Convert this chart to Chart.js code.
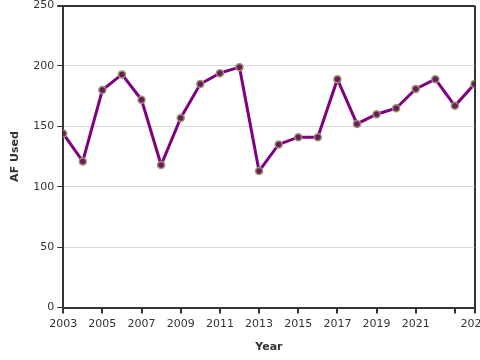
<!DOCTYPE html>
<html>
<head>
<meta charset="utf-8">
<script src="https://cdn.jsdelivr.net/npm/chart.js@4"></script>
<style>
  html, body { margin: 0; padding: 0; background: #fff; }
  #wrap { width: 480px; height: 360px; }
</style>
</head>
<body>
<div id="wrap"><canvas id="chart"></canvas></div>
<script>
const years = [2003, 2004, 2005, 2006, 2007, 2008, 2009, 2010, 2011, 2012, 2013,
               2014, 2015, 2016, 2017, 2018, 2019, 2020, 2021, 2022, 2023, 2024]
const afUsed = [144, 121, 180, 193, 172, 118, 157, 185, 194, 199, 113,
                135, 141, 141, 189, 152, 160, 165, 181, 189, 167, 185]
const xTicks = [2003, 2005, 2007, 2009, 2011, 2013, 2015, 2017, 2019, 2021, 2023, 2024]
const yTicks = [0, 50, 100, 150, 200, 250]

const axisColor = '#333'
const font = { family: "'DejaVu Sans', sans-serif", size: 11 }

const ctx = document.getElementById('chart').getContext('2d')
Chart.defaults.color = axisColor

const chart = new Chart(ctx, {
    type: 'line',
    data: {
        datasets: [{
            label: 'AF Used',
            data: years.map((y, i) => ({ x: y, y: afUsed[i] })),
            borderColor: '#800080',
            borderWidth: 3,
            pointRadius: 3.5,
            pointBackgroundColor: '#6b1a5c',
            pointBorderColor: '#9c9470',
            pointBorderWidth: 1.5,
            tension: 0
        }]
    },
    options: {
        responsive: true,
        maintainAspectRatio: false,
        animation: false,
        layout: { padding: { left: 9, right: 5, top: 0, bottom: 6 } },
        scales: {
            x: {
                type: 'linear',
                min: 2003,
                max: 2024,
                afterBuildTicks: (scale) => { scale.ticks = xTicks.map(v => ({ value: v })) },
                afterFit: (scale) => { scale.paddingRight = 0; scale.paddingLeft = 0 },
                ticks: {
                    autoSkip: false,
                    maxRotation: 0,
                    font: font,
                    color: axisColor,
                    padding: 4,
                    callback: (v) => v === 2023 ? '' : String(v)
                },
                grid: {
                    drawOnChartArea: true,
                    color: (c) => c.tick && c.tick.value === 2024 ? axisColor : 'rgba(0,0,0,0)',
                    lineWidth: 2,
                    tickColor: axisColor,
                    tickLength: 6
                },
                border: { color: axisColor, width: 2 },
                title: {
                    display: true,
                    text: 'Year',
                    font: { family: font.family, size: 11, weight: 'bold' },
                    color: axisColor,
                    padding: { top: 6, bottom: 0 }
                }
            },
            y: {
                min: 0,
                max: 250,
                afterBuildTicks: (scale) => { scale.ticks = yTicks.map(v => ({ value: v })) },
                afterFit: (scale) => { scale.paddingTop = 5 },
                ticks: { font: font, color: axisColor, padding: 3 },
                grid: {
                    color: (c) => c.tick && c.tick.value === 250 ? axisColor : '#d9d9d9',
                    lineWidth: (c) => c.tick && c.tick.value === 250 ? 2 : 1,
                    tickColor: axisColor,
                    tickLength: 6
                },
                border: { color: axisColor, width: 2 },
                title: {
                    display: true,
                    text: 'AF Used',
                    font: { family: font.family, size: 11, weight: 'bold' },
                    color: axisColor,
                    padding: { top: 0, bottom: 8 }
                }
            }
        },
        plugins: {
            legend: { display: false },
            tooltip: { enabled: false }
        }
    }
})
</script>
</body>
</html>
